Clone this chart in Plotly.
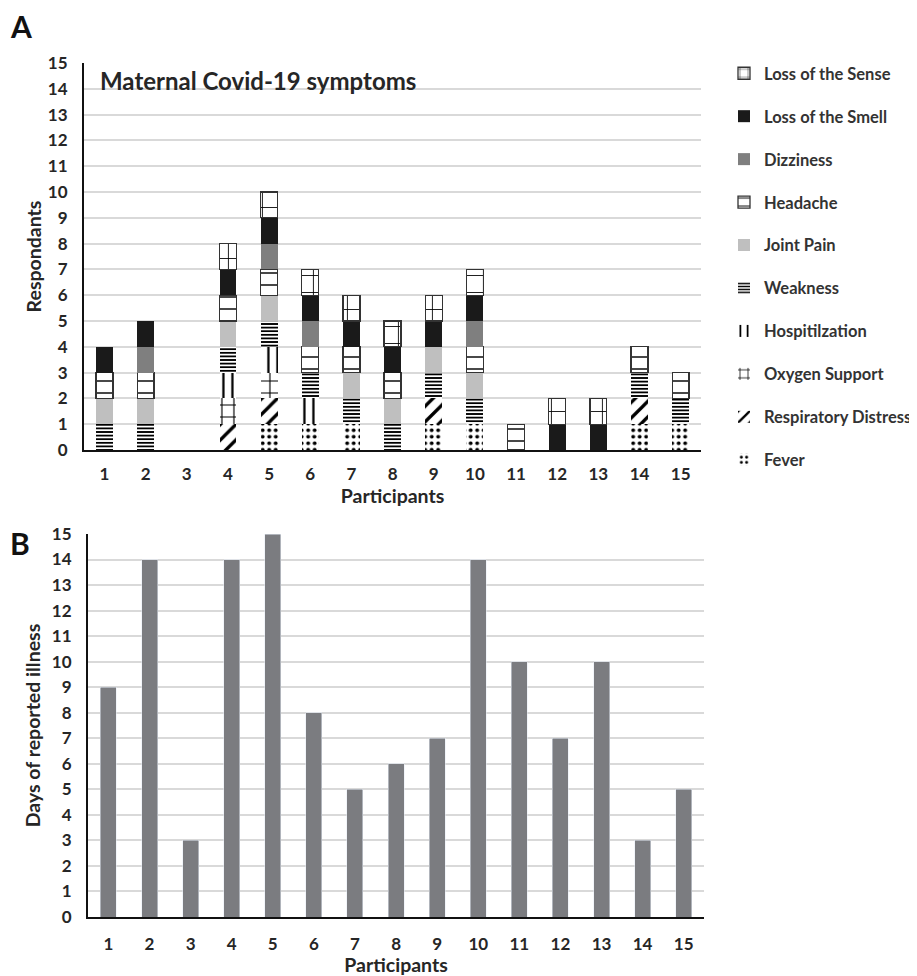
import plotly.graph_objects as go

# page has an 8px body margin; figure fills the rest of the 917x976 window
OFF = 8
W, H = 917 - OFF, 976 - OFF

participants = list(range(1, 16))

# Symptom stacks (bottom -> top); 1 = participant reported symptom
symptoms = ["Fever", "Respiratory Distress", "Oxygen Support", "Hospitilzation",
            "Weakness", "Joint Pain", "Headache", "Dizziness",
            "Loss of the Smell", "Loss of the Sense"]
fever       = [0, 0, 0, 0, 1, 1, 1, 0, 1, 1, 0, 0, 0, 1, 1]
resp        = [0, 0, 0, 1, 1, 0, 0, 0, 1, 0, 0, 0, 0, 1, 0]
oxygen      = [0, 0, 0, 1, 1, 0, 0, 0, 0, 0, 0, 0, 0, 0, 0]
hospital    = [0, 0, 0, 1, 1, 1, 0, 0, 0, 0, 0, 0, 0, 0, 0]
weakness    = [1, 1, 0, 1, 1, 1, 1, 1, 1, 1, 0, 0, 0, 1, 1]
joint_pain  = [1, 1, 0, 1, 1, 0, 1, 1, 1, 1, 0, 0, 0, 0, 0]
headache    = [1, 1, 0, 1, 1, 1, 1, 1, 0, 1, 1, 0, 0, 1, 1]
dizziness   = [0, 1, 0, 0, 1, 1, 0, 0, 0, 1, 0, 0, 0, 0, 0]
loss_smell  = [1, 1, 0, 1, 1, 1, 1, 1, 1, 1, 0, 1, 1, 0, 0]
loss_sense  = [0, 0, 0, 1, 1, 1, 1, 1, 1, 1, 0, 1, 1, 0, 0]
series = [fever, resp, oxygen, hospital, weakness, joint_pain, headache,
          dizziness, loss_smell, loss_sense]

days_ill = [9, 14, 3, 14, 15, 8, 5, 6, 7, 14, 10, 7, 10, 3, 5]

y_ticks = list(range(0, 16))

# styles per symptom: (bg color, pattern shape, pattern size, solidity, outline)
styles = {
    "Fever":                ("white", ".", 6.5, 0.28, None),
    "Respiratory Distress": ("white", "/", 11, 0.3, None),
    "Oxygen Support":       ("white", "+", 12, 0.18, None),
    "Hospitilzation":       ("white", "|", 9, 0.25, None),
    "Weakness":             ("white", "-", 3.6, 0.5, None),
    "Joint Pain":           ("#bfbfbf", "", 8, 0.3, None),
    "Headache":             ("white", "-", 12, 0.12, "#333333"),
    "Dizziness":            ("#7f7f7f", "", 8, 0.3, None),
    "Loss of the Smell":    ("#1a1a1a", "", 8, 0.3, None),
    "Loss of the Sense":    ("white", "+", 17, 0.1, "#333333"),
}

FONT = "Lato"
TXT = "#262626"

def X(p):
    return (p - OFF) / W

def Y(p):
    return 1 - (p - OFF) / H

fig = go.Figure()
n = len(symptoms)
for i, (name, vals) in enumerate(zip(symptoms, series)):
    bg, shape, size, sol, outline = styles[name]
    yv = [v if v else None for v in vals]
    fig.add_trace(go.Bar(
        x=participants, y=yv, name=name, legendgroup=name, legendrank=n - i,
        xaxis="x", yaxis="y", width=0.41,
        marker=dict(
            color=bg,
            line=dict(color=outline if outline else "rgba(0,0,0,0)", width=1.3 if outline else 0),
            pattern=dict(shape=shape, fgcolor="black", bgcolor=bg, size=size,
                         solidity=sol, fillmode="overlay", fgopacity=1) if shape else None,
        ),
    ))

fig.add_trace(go.Bar(
    x=participants, y=days_ill, name="Days of reported illness",
    xaxis="x2", yaxis="y2", width=0.39, marker=dict(color="#7b7c80"),
    showlegend=False,
))

axis_font = dict(family=FONT, size=17, color=TXT, weight="bold")
title_font = dict(family=FONT, size=19.5, color=TXT, weight="bold")

common_x = dict(
    tickmode="array", tickvals=participants, ticktext=[str(p) for p in participants],
    range=[0.5, 15.5], showgrid=False, showline=True, linecolor="#111111",
    linewidth=2, ticks="", tickfont=axis_font, ticklabelstandoff=8,
    zeroline=False, fixedrange=True, automargin=False,
)
common_y = dict(
    tickmode="array", tickvals=y_ticks, ticktext=[str(t) for t in y_ticks],
    range=[0, 15], showgrid=True, gridcolor="#d9d9d9", gridwidth=1.5,
    showline=True, linecolor="#111111", linewidth=2, ticks="",
    tickfont=axis_font, ticklabelstandoff=11, zeroline=False, fixedrange=True,
    automargin=False,
)

fig.update_layout(
    width=W, height=H,
    margin=dict(l=0, r=0, t=0, b=0),
    paper_bgcolor="white", plot_bgcolor="white",
    barmode="stack", bargap=0.5,
    font=dict(family=FONT, color=TXT),
    xaxis=dict(common_x, domain=[X(84), X(702)], anchor="y",
               title=dict(text="Participants", font=title_font, standoff=0)),
    yaxis=dict(common_y, domain=[Y(450), Y(63)], anchor="x",
               title=dict(text="Respondants", font=title_font, standoff=1)),
    xaxis2=dict(common_x, domain=[X(88), X(705)], anchor="y2", ticklabelstandoff=11,
                title=dict(text="Participants", font=title_font, standoff=0)),
    yaxis2=dict(common_y, domain=[Y(917), Y(534)], anchor="x2",
                title=dict(text="Days of reported illness", font=title_font, standoff=6)),
    title=dict(text="Maternal Covid-19 symptoms", x=X(100), xanchor="left",
               y=Y(82), yanchor="middle", yref="paper", automargin=False,
               font=dict(family=FONT, size=24, color=TXT, weight="bold")),
    legend=dict(
        x=X(725), xanchor="left", y=Y(56), yanchor="top",
        traceorder="grouped", tracegroupgap=18.5, itemwidth=30,
        font=dict(family=FONT, size=16.5, color="#333333", weight="bold"),
        bgcolor="rgba(0,0,0,0)",
    ),
    annotations=[
        dict(text="<b>A</b>", x=X(8), y=Y(26), xref="paper", yref="paper",
             xanchor="left", yanchor="middle", showarrow=False,
             font=dict(family=FONT, size=30, color="#111111")),
        dict(text="<b>B</b>", x=X(8), y=Y(543), xref="paper", yref="paper",
             xanchor="left", yanchor="middle", showarrow=False,
             font=dict(family=FONT, size=30, color="#111111")),
    ],
)

fig.write_html("out.html")
